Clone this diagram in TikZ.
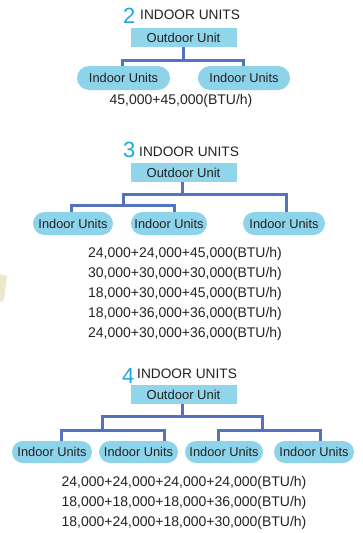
\documentclass[tikz,border=0pt]{standalone}
\usepackage{fontspec}
\setmainfont{Liberation Sans}
\usetikzlibrary{shapes.misc}
\definecolor{digitcyan}{HTML}{1BA8DC}
\definecolor{boxfill}{HTML}{90D5EA}
\definecolor{pillfill}{HTML}{8DD3EA}
\definecolor{linkblue}{HTML}{5573BD}
\definecolor{txt}{HTML}{222222}
\definecolor{tan}{HTML}{F0E6CF}
\tikzset{
  outbox/.style={fill=boxfill, minimum width=106pt, minimum height=19pt, inner sep=0pt,
    text=txt, font=\fontsize{13}{15}\selectfont},
  pill/.style={rounded rectangle, fill=pillfill, minimum height=23pt, inner sep=0pt,
    text=txt, font=\fontsize{12.8}{15}\selectfont},
  link/.style={draw=linkblue, line width=3pt},
  val/.style={inner sep=0pt, text=txt, font=\fontsize{14}{16}\selectfont},
  num/.style={inner sep=0pt, anchor=base west, text=digitcyan, font=\fontsize{22}{24}\selectfont},
  head/.style={inner sep=0pt, anchor=base west, text=txt, font=\fontsize{13.7}{16}\selectfont},
}
\begin{document}
\begin{tikzpicture}[x=1pt,y=-1pt]
\useasboundingbox (0,0) rectangle (362,533);
\fill[tan] (0,274) -- (7,276) -- (4,300) -- (0,302) -- cycle;

% ---------- 2 indoor units ----------
\node[num] (n2) at (123,23) {2};
\node[head] (h2) at (140,19.5) {INDOOR UNITS};
\node[outbox] (o2) at (183.5,37.5) {Outdoor Unit};
\node[pill, minimum width=93pt, minimum height=24pt] (a1) at (123.5,78) {Indoor Units};
\node[pill, minimum width=92pt, minimum height=24pt] (a2) at (244,78) {Indoor Units};
\coordinate (a0) at (183,60);
\coordinate (aL) at (122,60);
\coordinate (aR) at (243,60);
\draw[link] (o2.south -| a0) -- (a0);
\draw[link] (aL |- a1.north) -- (aL) -- (aR) -- (aR |- a2.north);
\node[val] (v2) at (181,101) {45,000+45,000(BTU/h)};

% ---------- 3 indoor units ----------
\node[num] (n3) at (123,157) {3};
\node[head] (h3) at (139,156) {INDOOR UNITS};
\node[outbox] (o3) at (183.5,172.5) {Outdoor Unit};
\node[pill, minimum width=80pt] (b1) at (73,223.5) {Indoor Units};
\node[pill, minimum width=76pt] (b2) at (169,223.5) {Indoor Units};
\node[pill, minimum width=82pt] (b3) at (284,223.5) {Indoor Units};
\coordinate (b0) at (182,194);
\coordinate (bL) at (123,194);
\coordinate (bR) at (286,194);
\coordinate (bLL) at (71,205);
\coordinate (bLR) at (174,205);
\draw[link] (o3.south -| b0) -- (b0);
\draw[link] (bL |- bLL) -- (bL) -- (bR) -- (bR |- b3.north);
\draw[link] (bLL |- b1.north) -- (bLL) -- (bLR) -- (bLR |- b2.north);
\node[val] (v31) at (185,253.5) {24,000+24,000+45,000(BTU/h)};
\node[val] (v32) at (185,273.5) {30,000+30,000+30,000(BTU/h)};
\node[val] (v33) at (185,293.5) {18,000+30,000+45,000(BTU/h)};
\node[val] (v34) at (185,313.5) {18,000+36,000+36,000(BTU/h)};
\node[val] (v35) at (185,333.5) {24,000+30,000+36,000(BTU/h)};

% ---------- 4 indoor units ----------
\node[num] (n4) at (122,383) {4};
\node[head] (h4) at (137,378) {INDOOR UNITS};
\node[outbox] (o4) at (183.5,394.5) {Outdoor Unit};
\node[pill, minimum width=80pt, minimum height=22pt] (c1) at (52,452) {Indoor Units};
\node[pill, minimum width=79pt, minimum height=22pt] (c2) at (138.5,452) {Indoor Units};
\node[pill, minimum width=78pt, minimum height=22pt] (c3) at (224,452) {Indoor Units};
\node[pill, minimum width=80pt, minimum height=22pt] (c4) at (314,452) {Indoor Units};
\coordinate (c0) at (182,416);
\coordinate (cL) at (102,416);
\coordinate (cR) at (262,416);
\coordinate (cLL) at (61,430);
\coordinate (cLR) at (164,430);
\coordinate (cRL) at (218,430);
\coordinate (cRR) at (320,430);
\draw[link] (o4.south -| c0) -- (c0);
\draw[link] (cL |- cLL) -- (cL) -- (cR) -- (cR |- cRL);
\draw[link] (cLL |- c1.north) -- (cLL) -- (cLR) -- (cLR |- c2.north);
\draw[link] (cRL |- c3.north) -- (cRL) -- (cRR) -- (cRR |- c4.north);
\node[val] (v41) at (184,483.3) {24,000+24,000+24,000+24,000(BTU/h)};
\node[val] (v42) at (184,503.3) {18,000+18,000+18,000+36,000(BTU/h)};
\node[val] (v43) at (184,523.3) {18,000+24,000+18,000+30,000(BTU/h)};
\end{tikzpicture}
\end{document}
